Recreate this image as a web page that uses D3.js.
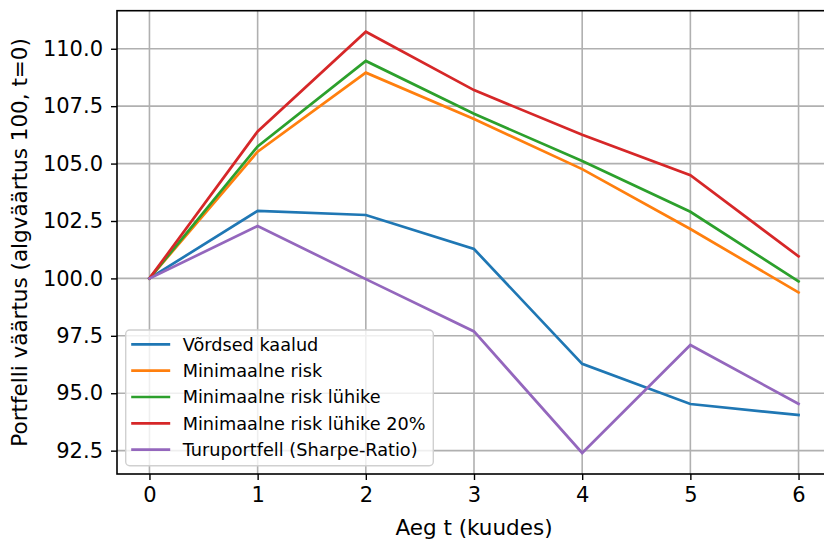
<!DOCTYPE html>
<html>
<head>
<meta charset="utf-8">
<script src="https://cdn.jsdelivr.net/npm/d3@7"></script>
<style>
  html, body { margin: 0; padding: 0; background: #fff; }
  svg { display: block; font-family: "DejaVu Sans", sans-serif; }
</style>
</head>
<body>
<svg id="chart" width="824" height="540"></svg>
<script>
// Portfolio value over time (months), start value 100
const months = [0, 1, 2, 3, 4, 5, 6];
const equalWeights   = [100.0, 102.94, 102.76, 101.28, 96.28, 94.53, 94.05];
const minRisk        = [100.0, 105.52, 108.96, 106.94, 104.76, 102.15, 99.39];
const minRiskShort   = [100.0, 105.75, 109.47, 107.17, 105.11, 102.90, 99.87];
const minRiskShort20 = [100.0, 106.40, 110.74, 108.20, 106.26, 104.49, 100.96];
const marketSharpe   = [100.0, 102.28, 99.97, 97.69, 92.40, 97.10, 94.54];

const seriesNames = [
  "Võrdsed kaalud",
  "Minimaalne risk",
  "Minimaalne risk lühike",
  "Minimaalne risk lühike 20%",
  "Turuportfell (Sharpe-Ratio)"
];
const seriesValues = [equalWeights, minRisk, minRiskShort, minRiskShort20, marketSharpe];
const colors = ["#1f77b4", "#ff7f0e", "#2ca02c", "#d62728", "#9467bd"];

const xTicks = [0, 1, 2, 3, 4, 5, 6];
const yTicks = [92.5, 95.0, 97.5, 100.0, 102.5, 105.0, 107.5, 110.0];

const xLabel = "Aeg t (kuudes)";
const yLabel = "Portfelli väärtus (algväärtus 100, t=0)";

const svg = d3.select("#chart");
const plot = { left: 117, right: 831, top: 10.7, bottom: 474 };

// Axis limits with a 5% margin around the data
const allVals = seriesValues.flat();
const yMin = d3.min(allVals), yMax = d3.max(allVals);
const yPad = (yMax - yMin) * 0.05;
const xPad = (d3.max(months) - d3.min(months)) * 0.05;

const x = d3.scaleLinear()
  .domain([d3.min(months) - xPad, d3.max(months) + xPad])
  .range([plot.left, plot.right]);
const y = d3.scaleLinear()
  .domain([yMin - yPad, yMax + yPad])
  .range([plot.bottom, plot.top]);

// Grid
const grid = svg.append("g").attr("stroke", "#b0b0b0").attr("stroke-width", 1.6);
grid.selectAll("line.gx").data(xTicks).join("line")
  .attr("x1", d => x(d)).attr("x2", d => x(d))
  .attr("y1", plot.top).attr("y2", plot.bottom);
grid.selectAll("line.gy").data(yTicks).join("line")
  .attr("x1", plot.left).attr("x2", plot.right)
  .attr("y1", d => y(d)).attr("y2", d => y(d));

// Series lines
const line = d3.line().x((d, i) => x(months[i])).y(d => y(d));
svg.append("g").selectAll("path").data(seriesValues).join("path")
  .attr("d", d => line(d))
  .attr("fill", "none")
  .attr("stroke", (d, i) => colors[i])
  .attr("stroke-width", 2.7)
  .attr("stroke-linejoin", "miter")
  .attr("stroke-linecap", "square");

// Axes
const xAxis = d3.axisBottom(x).tickValues(xTicks).tickFormat(d3.format("d"))
  .tickSizeInner(6).tickSizeOuter(0).tickPadding(7);
const yAxis = d3.axisLeft(y).tickValues(yTicks).tickFormat(d3.format(".1f"))
  .tickSizeInner(6).tickSizeOuter(0).tickPadding(8);

const gx = svg.append("g").attr("transform", `translate(0,${plot.bottom})`).call(xAxis);
const gy = svg.append("g").attr("transform", `translate(${plot.left},0)`).call(yAxis);
[gx, gy].forEach(g => {
  g.selectAll("text").attr("font-size", 21).attr("fill", "#000")
    .attr("font-family", "DejaVu Sans, sans-serif");
  g.selectAll("line").attr("stroke", "#000").attr("stroke-width", 1.4);
  g.select(".domain").remove();
});

// Spines
const spines = svg.append("g").attr("stroke", "#000").attr("stroke-width", 1.6).attr("fill", "none");
spines.append("rect")
  .attr("x", plot.left).attr("y", plot.top)
  .attr("width", plot.right - plot.left).attr("height", plot.bottom - plot.top);

// Axis labels
svg.append("text")
  .attr("x", 474).attr("y", 535)
  .attr("text-anchor", "middle").attr("font-size", 21.5).text(xLabel);
svg.append("text")
  .attr("transform", `translate(27,${(plot.top + plot.bottom) / 2}) rotate(-90)`)
  .attr("text-anchor", "middle").attr("font-size", 21.5).text(yLabel);

// Legend
const lg = svg.append("g").attr("transform", "translate(125.7,330)");
lg.append("rect")
  .attr("width", 307.6).attr("height", 135.7).attr("rx", 4)
  .attr("fill", "#fff").attr("fill-opacity", 0.8)
  .attr("stroke", "#d0d0d0").attr("stroke-width", 1.4);
const rows = lg.selectAll("g.row").data(seriesNames).join("g")
  .attr("transform", (d, i) => `translate(0,${14.3 + i * 26.35})`);
rows.append("line")
  .attr("x1", 5.5).attr("x2", 44.5).attr("y1", 0).attr("y2", 0)
  .attr("stroke", (d, i) => colors[i]).attr("stroke-width", 2.7);
rows.append("text")
  .attr("x", 57).attr("y", 0).attr("dy", "0.36em")
  .attr("font-size", 17.7).text(d => d);
</script>
</body>
</html>
